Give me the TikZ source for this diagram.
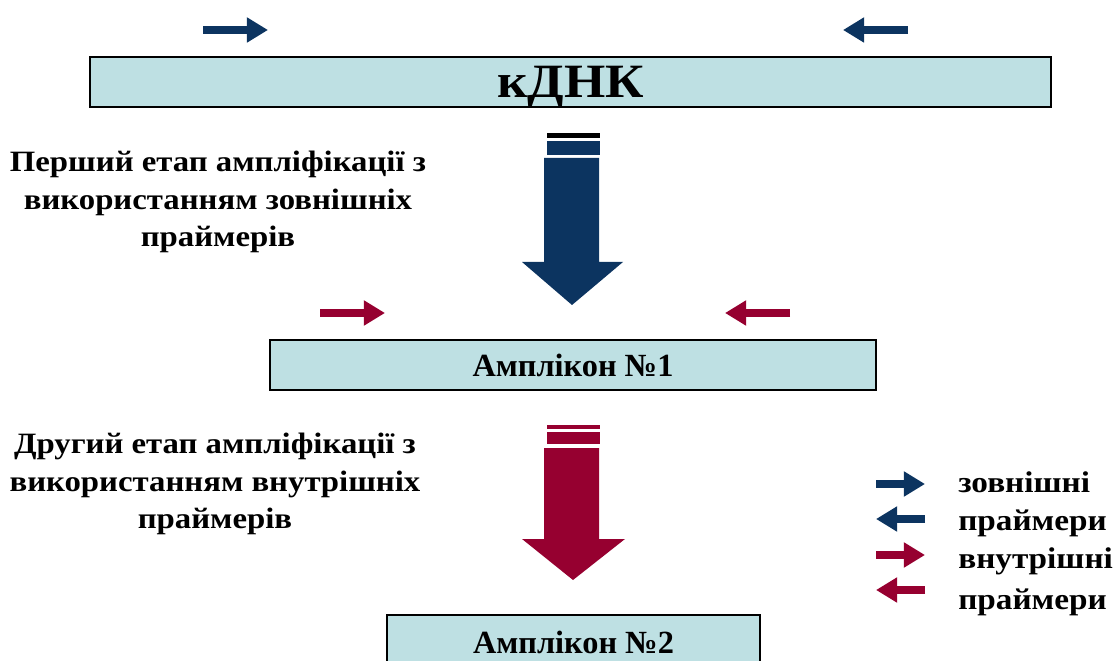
\documentclass[tikz,border=0pt]{standalone}
\usepackage{fontspec}
\setmainfont{Liberation Serif}
\newfontfamily\widefont[FakeStretch=1.11]{Liberation Serif}
\usetikzlibrary{arrows.meta,
                positioning}

\definecolor{navy}{RGB}{12,52,96}
\definecolor{wine}{RGB}{150,0,48}
\definecolor{boxfill}{RGB}{190,224,227}

\begin{document}
\begin{tikzpicture}[
            x = 0.025cm, y = -0.025cm,
            box/.style = {draw, line width=1.5pt, fill=boxfill, inner sep=0pt,
                    minimum height=1.25cm, text depth=0pt,
                    font=\bfseries\fontsize{23}{26}\selectfont},
            stage/.style = {align=center, inner sep=0pt,
                    font=\widefont\bfseries\fontsize{21}{26.5}\selectfont},
            legend/.style = {anchor=west, inner sep=0pt,
                    font=\widefont\bfseries\fontsize{21.3}{24}\selectfont},
            primer/.style = {line width=5pt,
                    -{Triangle[length=15pt, width=17pt]}}]

        \clip (0,0) rectangle (1116,661);

        % boxes
        \node [box, minimum width=24.025cm,
            font=\widefont\bfseries\fontsize{34}{40}\selectfont] (cdna) at (570.5,82) {кДНК};
        \node [box, minimum width=15.15cm] (amp1) at (573,365) {Амплікон №1};
        \node [box, minimum width=9.325cm, minimum height=1.5cm,
            text depth=4pt] (amp2) at (573.5,645) {Амплікон №2};

        % stage texts
        \node [stage] (stage1) at (218,202) {Перший етап ампліфікації з\\
            використанням зовнішніх\\ праймерів};
        \node [stage] (stage2) at (215,484) {Другий етап ампліфікації з\\
            використанням внутрішніх\\ праймерів};

        % outer primers
        \draw [primer, navy] (203,30) -- (268,30);
        \draw [primer, navy] (908,30) -- (843,30);
        % inner primers
        \draw [primer, wine] (320,313) -- (385,313);
        \draw [primer, wine] (790,313) -- (725,313);

        % first stage arrow
        \fill [black] (547,133) rectangle (600,138);
        \fill [navy] (547,141) rectangle (600,155);
        \fill [navy] (544,158) -- (599,158) -- (599,262) -- (623,262)
            -- (572,305) -- (522,262) -- (544,262) -- cycle;
        % second stage arrow
        \fill [wine] (547,425) rectangle (600,429);
        \fill [wine] (547,432) rectangle (600,444);
        \fill [wine] (544,448) -- (599,448) -- (599,539) -- (625,539)
            -- (573,580) -- (522,539) -- (544,539) -- cycle;

        % legend
        \node [legend] (leg1) at (958,482) {зовнішні};
        \node [legend] (leg2) at (958,523) {праймери};
        \node [legend] (leg3) at (958,561) {внутрішні};
        \node [legend] (leg4) at (958,602) {праймери};
        \draw [primer, navy] (876,484) -- (925,484);
        \draw [primer, navy] (925,519) -- (876,519);
        \draw [primer, wine] (876,555) -- (925,555);
        \draw [primer, wine] (925,590) -- (876,590);
    \end{tikzpicture}
\end{document}
